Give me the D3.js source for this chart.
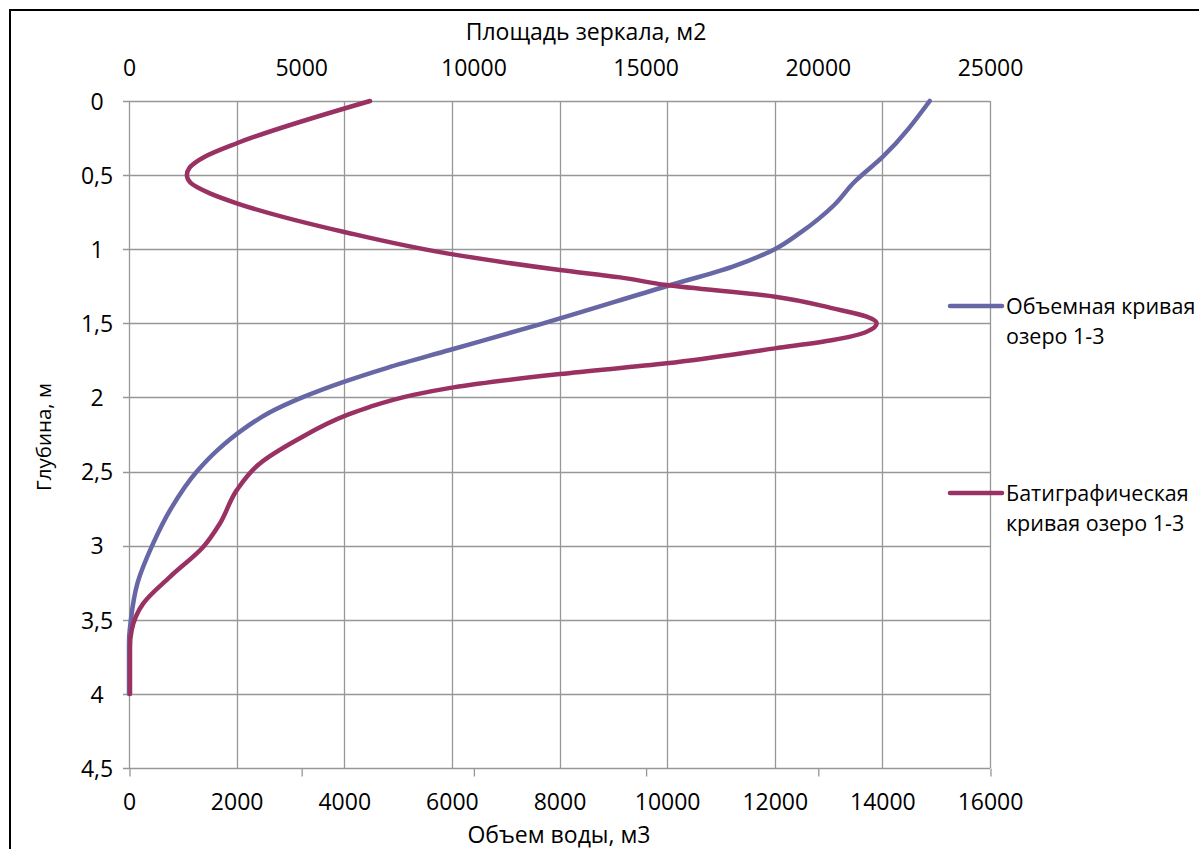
<!DOCTYPE html>
<html lang="ru">
<head>
<meta charset="utf-8">
<title>Объемная и батиграфическая кривые озера 1-3</title>
<script src="https://cdn.jsdelivr.net/npm/d3@7"></script>
<style>
  html, body { margin: 0; padding: 0; background: #fff; }
  svg { display: block; }
  text { font-family: "Open Sans", "Noto Sans", sans-serif; fill: #000; }
</style>
</head>
<body>
<svg id="chart" width="1199" height="849"></svg>
<script>
// Depth (m) and water volume (m3) — volume curve
const volumeDepth = [0, 0.376, 0.55, 0.7, 0.89, 1.0, 1.117, 1.248, 1.5, 1.68, 1.8, 1.9, 2.0, 2.1, 2.22, 2.35, 2.5, 2.75, 3.0, 3.25, 3.5, 3.65, 4.0];
const volumeM3    = [14880, 14010, 13470, 13110, 12470, 12000, 11220, 10000, 7700, 5960, 4800, 3950, 3220, 2620, 2100, 1660, 1260, 780, 430, 160, 35, 0, 0];

// Depth (m) and water surface area (m2) — bathygraphic curve
const areaDepth = [0, 0.285, 0.376, 0.45, 0.5, 0.55, 0.623, 0.69, 0.882, 1.028, 1.14, 1.19, 1.242, 1.32, 1.399, 1.455, 1.5, 1.557, 1.613, 1.669, 1.77, 1.842, 1.932, 1.983, 2.063, 2.119, 2.287, 2.445, 2.625, 2.85, 3.007, 3.21, 3.389, 3.569, 3.68, 4.0];
const areaM2    = [7000, 3130, 2200, 1760, 1680, 1780, 2350, 3130, 6220, 9230, 12510, 14260, 15610, 18760, 20440, 21420, 21710, 21420, 20440, 18760, 15610, 12510, 9420, 8260, 7000, 6320, 4870, 3800, 3130, 2640, 2160, 1190, 415, 78, 29, 29];

// Axis ticks
const depthTicks  = [0, 0.5, 1, 1.5, 2, 2.5, 3, 3.5, 4, 4.5];
const volumeTicks = [0, 2000, 4000, 6000, 8000, 10000, 12000, 14000, 16000];
const areaTicks   = [0, 5000, 10000, 15000, 20000, 25000];

// Titles and legend
const titleArea   = "Площадь зеркала, м2";
const titleVolume = "Объем воды, м3";
const titleDepth  = "Глубина, м";
const seriesNames = [["Объемная кривая", "озеро 1-3"], ["Батиграфическая", "кривая озеро 1-3"]];
const seriesColors = ["#6867a6", "#9a3163"];

const svg = d3.select("#chart");
const plot = { left: 129, right: 990, top: 101, bottom: 768 };
const gridColor = "#979797";
const fontSize = 23;

const y = d3.scaleLinear().domain([0, 4.5]).range([plot.top, plot.bottom]);
const xVol = d3.scaleLinear().domain([0, 16000]).range([plot.left, plot.right]);
const xArea = d3.scaleLinear().domain([0, 25000]).range([plot.left, plot.right]);

// Outer frame
svg.append("rect")
  .attr("x", 10).attr("y", 10)
  .attr("width", 1300).attr("height", 1000)
  .attr("fill", "#fff").attr("stroke", "#000").attr("stroke-width", 2);

// Vertical gridlines (volume axis)
svg.append("g").selectAll("line").data(volumeTicks).join("line")
  .attr("x1", d => Math.round(xVol(d)) + 0.5).attr("x2", d => Math.round(xVol(d)) + 0.5)
  .attr("y1", plot.top).attr("y2", plot.bottom)
  .attr("stroke", gridColor).attr("stroke-width", 1.3);

// Horizontal gridlines with left tick marks
svg.append("g").selectAll("line").data(depthTicks).join("line")
  .attr("x1", plot.left - 6).attr("x2", plot.right)
  .attr("y1", d => Math.round(y(d)) + 0.5).attr("y2", d => Math.round(y(d)) + 0.5)
  .attr("stroke", gridColor).attr("stroke-width", 1.3);

// Bottom tick marks at the area-axis positions
svg.append("g")
  .attr("transform", `translate(0.5,${plot.bottom + 0.5})`)
  .call(d3.axisBottom(xArea).tickValues(areaTicks).tickSize(8).tickFormat("").tickSizeOuter(0))
  .call(g => g.select(".domain").remove())
  .call(g => g.selectAll("line").attr("stroke", gridColor).attr("stroke-width", 1.3));

// Bottom labels (volume)
svg.append("g")
  .attr("transform", `translate(0,${plot.bottom})`)
  .call(d3.axisBottom(xVol).tickValues(volumeTicks).tickSize(0).tickPadding(0).tickFormat(d => String(d)))
  .call(g => g.select(".domain").remove())
  .call(g => g.selectAll("text")
    .attr("dy", null).attr("y", 42)
    .attr("font-size", fontSize).attr("font-family", null));

// Top labels (area)
svg.append("g")
  .attr("transform", `translate(0,${plot.top})`)
  .call(d3.axisTop(xArea).tickValues(areaTicks).tickSize(0).tickPadding(0).tickFormat(d => String(d)))
  .call(g => g.select(".domain").remove())
  .call(g => g.selectAll("text")
    .attr("dy", null).attr("y", -25)
    .attr("font-size", fontSize).attr("font-family", null));

// Left labels (depth), centred in their column
svg.append("g")
  .attr("transform", `translate(${plot.left},0)`)
  .call(d3.axisLeft(y).tickValues(depthTicks).tickSize(0).tickPadding(0).tickFormat(d => String(d).replace(".", ",")))
  .call(g => g.select(".domain").remove())
  .call(g => g.selectAll("text")
    .attr("x", -32).attr("dy", "0.36em")
    .attr("text-anchor", "middle")
    .attr("font-size", fontSize).attr("font-family", null));

// Axis titles
svg.append("text").attr("x", 586).attr("y", 40)
  .attr("text-anchor", "middle").attr("font-size", fontSize).text(titleArea);
svg.append("text").attr("x", 559).attr("y", 843)
  .attr("text-anchor", "middle").attr("font-size", fontSize).text(titleVolume);
svg.append("text")
  .attr("transform", "translate(51,437) rotate(-90)")
  .attr("text-anchor", "middle").attr("font-size", 20.5).text(titleDepth);

// Curves: depth is the independent variable, so interpolate monotonically in y
const volumePoints = volumeDepth.map((d, i) => ({ depth: d, value: volumeM3[i] }));
const areaPoints = areaDepth.map((d, i) => ({ depth: d, value: areaM2[i] }));

const volumeLine = d3.line().x(d => xVol(d.value)).y(d => y(d.depth)).curve(d3.curveMonotoneY);
const areaLine = d3.line().x(d => xArea(d.value)).y(d => y(d.depth)).curve(d3.curveMonotoneY);

svg.append("path").datum(volumePoints)
  .attr("d", volumeLine)
  .attr("fill", "none").attr("stroke", seriesColors[0])
  .attr("stroke-width", 4.5).attr("stroke-linecap", "round").attr("stroke-linejoin", "round");

svg.append("path").datum(areaPoints)
  .attr("d", areaLine)
  .attr("fill", "none").attr("stroke", seriesColors[1])
  .attr("stroke-width", 4.5).attr("stroke-linecap", "round").attr("stroke-linejoin", "round");

// Legend
const legendRows = [306, 493];
const legend = svg.append("g");
seriesNames.forEach((lines, i) => {
  const ly = legendRows[i];
  legend.append("line")
    .attr("x1", 950).attr("x2", 1002).attr("y1", ly).attr("y2", ly)
    .attr("stroke", seriesColors[i]).attr("stroke-width", 4.5).attr("stroke-linecap", "round");
  const t = legend.append("text").attr("x", 1006).attr("y", ly + 8).attr("font-size", fontSize - 1.5);
  lines.forEach((s, k) => {
    t.append("tspan").attr("x", 1006).attr("dy", k === 0 ? 0 : 29.5).text(s);
  });
});
</script>
</body>
</html>
